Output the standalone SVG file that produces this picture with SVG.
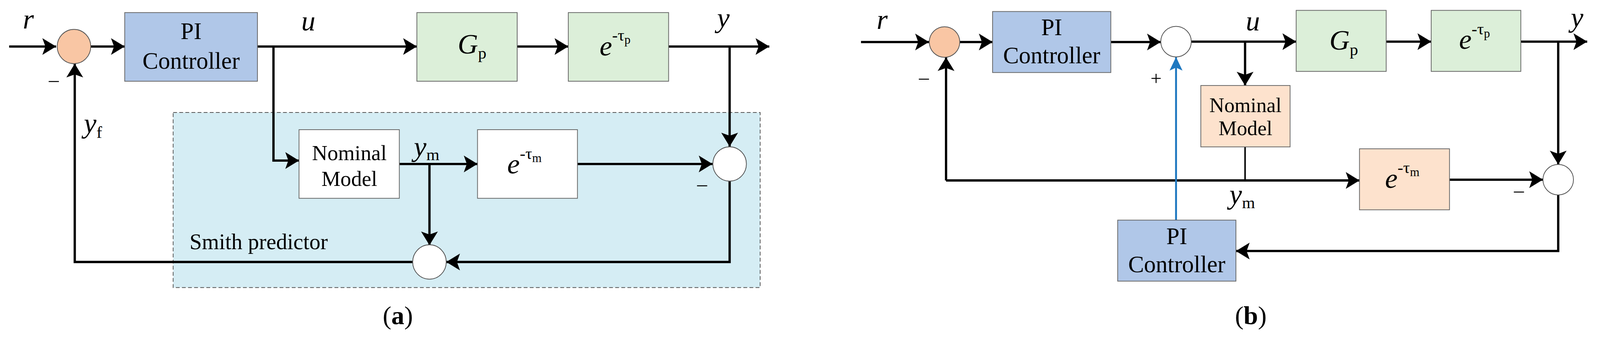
<svg xmlns="http://www.w3.org/2000/svg" width="4142" height="891" viewBox="0 0 4142 891">
<style>
text{font-family:"Liberation Serif",serif;fill:#000}
.t{font-size:62px;text-anchor:middle}
.i{font-style:italic;font-size:74px}
.s{font-size:44px;font-style:normal}
.c{stroke:#000;stroke-width:6;fill:none}
.box{stroke:#666;stroke-width:2}
</style>
<defs>
<marker id="a" markerWidth="10" markerHeight="10" refX="9" refY="5" orient="auto" markerUnits="userSpaceOnUse" viewBox="0 0 10 10" style="overflow:visible"><path d="M-36,-17 L0,5 L-36,27 L-28,5 Z" transform="translate(9,0)" fill="#000"/></marker>
<marker id="ab" markerWidth="10" markerHeight="10" refX="9" refY="5" orient="auto" markerUnits="userSpaceOnUse" viewBox="0 0 10 10" style="overflow:visible"><path d="M-36,-12 L0,5 L-36,22 L-28,5 Z" transform="translate(9,0)" fill="#1f78c0"/></marker>
</defs>
<rect width="4142" height="891" fill="#fff"/>
<g id="panelA" transform="scale(0.9764)">
<g id="smith"><rect x="454" y="295" width="1539" height="459" fill="#d5edf4" stroke="#555" stroke-width="2" stroke-dasharray="10,6"/>
<text x="497" y="653" style="font-size:58px">Smith predictor</text></g>
<g id="connA">
<path class="c" marker-end="url(#a)" d="M24,122 H147"/>
<path class="c" marker-end="url(#a)" d="M238,122 H327"/>
<path class="c" marker-end="url(#a)" d="M675,122 H1093"/>
<path class="c" marker-end="url(#a)" d="M1356,122 H1490"/>
<path class="c" marker-end="url(#a)" d="M1753,122 H2017"/>
<path class="c" marker-end="url(#a)" d="M1913,122 V384"/>
<path class="c" marker-end="url(#a)" d="M717,122 V421 H784"/>
<path class="c" marker-end="url(#a)" d="M1047,430 H1252"/>
<path class="c" marker-end="url(#a)" d="M1126,430 V643"/>
<path class="c" marker-end="url(#a)" d="M1514,430 H1868"/>
<path class="c" marker-end="url(#a)" d="M1913,475 V687 H1170"/>
<path class="c" marker-end="url(#a)" d="M1082,687 H196 V167"/>
</g>
<g id="sumA"><ellipse cx="194" cy="122" rx="44" ry="45" fill="#f9c6a4" stroke="#555" stroke-width="2"/></g>
<g id="piA"><rect class="box" x="327" y="33" width="348" height="180" fill="#b0c7e8"/><text class="t" x="501" y="102">PI</text><text class="t" x="501" y="180">Controller</text></g>
<g id="gpA"><rect class="box" x="1093" y="33" width="263" height="180" fill="#dcefd9"/><text class="i" x="1200" y="140">G<tspan class="s" dy="14">p</tspan></text></g>
<g id="dpA"><rect class="box" x="1490" y="33" width="263" height="180" fill="#dcefd9"/><text class="i" x="1572" y="145">e<tspan class="s" dy="-38">-</tspan><tspan class="s" font-style="italic">τ</tspan><tspan class="s" style="font-size:32px" dy="8">p</tspan></text></g>
<g id="nmA"><rect class="box" x="784" y="340" width="263" height="180" fill="#fff"/><text class="t" x="916" y="420" style="font-size:56px">Nominal</text><text class="t" x="916" y="487" style="font-size:56px">Model</text></g>
<g id="dmA"><rect class="box" x="1252" y="340" width="262" height="180" fill="#fff"/><text class="i" x="1330" y="455">e<tspan class="s" dy="-38">-</tspan><tspan class="s" font-style="italic">τ</tspan><tspan class="s" style="font-size:32px" dy="8">m</tspan></text></g>
<g id="s2A"><ellipse cx="1913" cy="430" rx="44" ry="45" fill="#fff" stroke="#555" stroke-width="2"/></g>
<g id="s3A"><ellipse cx="1126" cy="687" rx="44" ry="45" fill="#fff" stroke="#555" stroke-width="2"/></g>
<g id="labelsA">
<text class="i" x="60" y="75">r</text>
<text class="i" x="790" y="80">u</text>
<text class="i" x="1880" y="72">y</text>
<text class="i" x="1085" y="410">y<tspan class="s" dy="10">m</tspan></text>
<text class="i" x="220" y="348">y<tspan class="s" dy="14">f</tspan></text>
<text x="128" y="226" style="font-size:52px">–</text>
<text x="1828" y="500" style="font-size:52px">–</text>
<text x="1043" y="850" style="font-size:68px;text-anchor:middle">(<tspan font-weight="bold">a</tspan>)</text>
</g>
</g>
<g id="panelB" transform="translate(2045,8) scale(0.9764) translate(-2071,0)">
<g id="connB">
<path class="c" marker-end="url(#a)" d="M2234,102 H2412"/>
<path class="c" marker-end="url(#a)" d="M2493,102 H2579"/>
<path class="c" marker-end="url(#a)" d="M2889,102 H3020"/>
<path class="c" marker-end="url(#a)" d="M3100,101 H3375"/>
<path class="c" marker-end="url(#a)" d="M3611,101 H3729"/>
<path class="c" marker-end="url(#a)" d="M3964,101 H4138"/>
<path class="c" marker-end="url(#a)" d="M4062,101 V423"/>
<path class="c" marker-end="url(#a)" d="M3241,101 V216"/>
<path class="c" style="stroke-width:4" d="M3241,377 V465"/>
<path class="c" marker-end="url(#a)" d="M2457,465 H3541"/>
<path class="c" marker-end="url(#a)" d="M2457,465 V142"/>
<path class="c" marker-end="url(#a)" d="M3777,463 H4022"/>
<path class="c" marker-end="url(#a)" d="M4062,503 V650 H3217"/>
<path style="stroke:#1f78c0;stroke-width:5;fill:none" marker-end="url(#ab)" d="M3060,569 V141"/>
</g>
<g id="sumB"><ellipse cx="2453" cy="102" rx="40" ry="40" fill="#f9c6a4" stroke="#555" stroke-width="2"/></g>
<g id="piB"><rect class="box" x="2579" y="22" width="310" height="160" fill="#b0c7e8"/><text class="t" x="2734" y="84">PI</text><text class="t" x="2734" y="158">Controller</text></g>
<g id="s1B"><ellipse cx="3060" cy="101" rx="40" ry="40" fill="#fff" stroke="#555" stroke-width="2"/></g>
<g id="gpB"><rect class="box" x="3375" y="19" width="236" height="160" fill="#dcefd9"/><text class="i" x="3462" y="122">G<tspan class="s" dy="14">p</tspan></text></g>
<g id="dpB"><rect class="box" x="3729" y="19" width="235" height="160" fill="#dcefd9"/><text class="i" x="3802" y="120">e<tspan class="s" dy="-38">-</tspan><tspan class="s" font-style="italic">τ</tspan><tspan class="s" style="font-size:32px" dy="8">p</tspan></text></g>
<g id="nmB"><rect class="box" x="3125" y="216" width="234" height="161" fill="#fde2cd"/><text class="t" x="3242" y="286" style="font-size:54px">Nominal</text><text class="t" x="3242" y="346" style="font-size:54px">Model</text></g>
<g id="dmB"><rect class="box" x="3541" y="382" width="236" height="160" fill="#fde2cd"/><text class="i" x="3608" y="484">e<tspan class="s" dy="-38">-</tspan><tspan class="s" font-style="italic">τ</tspan><tspan class="s" style="font-size:32px" dy="8">m</tspan></text></g>
<g id="s3B"><ellipse cx="4062" cy="463" rx="40" ry="40" fill="#fff" stroke="#555" stroke-width="2"/></g>
<g id="pi2B"><rect class="box" x="2907" y="569" width="310" height="160" fill="#b0c7e8"/><text class="t" x="3062" y="632">PI</text><text class="t" x="3062" y="706">Controller</text></g>
<g id="labelsB">
<text class="i" x="2275" y="68">r</text>
<text class="i" x="3243" y="72">u</text>
<text class="i" x="4095" y="62">y</text>
<text class="i" x="3200" y="526">y<tspan class="s" dy="12">m</tspan></text>
<text x="2386" y="212" style="font-size:52px">–</text>
<text x="2993" y="215" style="font-size:52px">+</text>
<text x="3946" y="508" style="font-size:52px">–</text>
<text x="3256" y="842" style="font-size:68px;text-anchor:middle">(<tspan font-weight="bold">b</tspan>)</text>
</g>
</g>
</svg>
